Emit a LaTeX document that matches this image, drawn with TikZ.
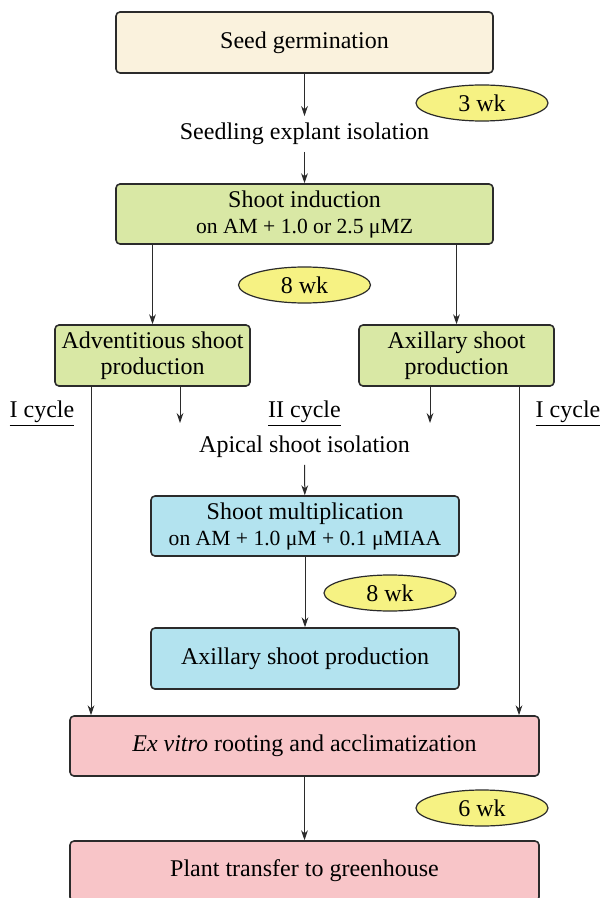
\documentclass[tikz,border=0pt]{standalone}
\usepackage{fontspec}
\setmainfont{Liberation Serif}
\usetikzlibrary{arrows.meta,positioning,shapes.geometric}
\definecolor{stepcream}{HTML}{FAF2DD}
\definecolor{stepgreen}{HTML}{D9E8A5}
\definecolor{stepblue}{HTML}{B3E3EF}
\definecolor{steppink}{HTML}{F8C5C8}
\definecolor{stepyellow}{HTML}{F6F283}
\definecolor{stepink}{HTML}{2B2B2B}
\newcommand{\smalltxt}{\fontsize{10.8}{13}\selectfont}

\begin{document}
\begin{tikzpicture}[x=0.5pt,y=-0.5pt,line join=round,
  font=\fontsize{12}{13}\selectfont,text=black,
  >={Stealth[length=5pt,width=3.4pt]},
  stagebox/.style={draw=stepink,line width=0.8pt,rounded corners=2pt,
    align=center,inner sep=1pt},
  wkmark/.style={ellipse,draw=stepink,line width=0.6pt,fill=stepyellow,
    minimum width=66pt,minimum height=18pt,inner sep=0pt},
  flow/.style={->,stepink,line width=0.5pt},
  cyc/.style={inner sep=1pt}]
  \useasboundingbox (0,0) rectangle (601,898);
  \fill[white] (0,0) rectangle (601,898);
  % stages
  \node[stagebox,fill=stepcream,minimum width=188.5pt,minimum height=30.5pt]
    (seed) at (304.5,42.5) {Seed germination};
  \node (isol) at (304.5,134) {Seedling explant isolation};
  \node[stagebox,fill=stepgreen,minimum width=188.5pt,minimum height=30pt]
    (induct) at (304.5,214) {Shoot induction\\{\smalltxt on AM + 1.0 or 2.5 μMZ}};
  \node[stagebox,fill=stepgreen,minimum width=97.5pt,minimum height=30.5pt]
    (adv) at (152.5,355.5) {Adventitious shoot\\production};
  \node[stagebox,fill=stepgreen,minimum width=97.5pt,minimum height=30.5pt]
    (axil) at (456.5,355.5) {Axillary shoot\\production};
  \node (apical) at (304.5,447) {Apical shoot isolation};
  \node[stagebox,fill=stepblue,minimum width=154pt,minimum height=30pt]
    (mult) at (305,526) {Shoot multiplication\\{\smalltxt on AM + 1.0 μM + 0.1 μMIAA}};
  \node[stagebox,fill=stepblue,minimum width=154pt,minimum height=30.5pt]
    (axprod) at (305,658.5) {Axillary shoot production};
  \node[stagebox,fill=steppink,minimum width=234.5pt,minimum height=30pt]
    (exvitro) at (304.5,746) {\textit{Ex vitro} rooting and acclimatization};
  \node[stagebox,fill=steppink,minimum width=234.5pt,minimum height=30pt]
    (transfer) at (304.5,871) {Plant transfer to greenhouse};
  % durations
  \node[wkmark] (wk3) at (482,103) {3 wk};
  \node[wkmark] (wk8a) at (304.5,285) {8 wk};
  \node[wkmark] (wk8b) at (390,593) {8 wk};
  \node[wkmark] (wk6) at (482,808) {6 wk};
  % cycle labels
  \node[cyc] (cycA) at (42,414) {\underline{I cycle}};
  \node[cyc] (cycB) at (304.5,414) {\underline{II cycle}};
  \node[cyc] (cycC) at (568,414) {\underline{I cycle}};
  % free ends and verticals
  \coordinate (advL) at (91,0);
  \coordinate (advR) at (180,423);
  \coordinate (axL) at (430,423);
  \coordinate (axR) at (519,0);
  \coordinate (indL) at (152.5,0);
  \coordinate (indR) at (456.5,0);
  % connectors
  \draw[flow] (seed) -- (isol);
  \draw[flow] (isol) -- (induct);
  \draw[flow] (induct.south -| indL) -- (adv.north);
  \draw[flow] (induct.south -| indR) -- (axil.north);
  \draw[flow] (adv.south -| advL) -- (exvitro.north -| advL);
  \draw[flow] (adv.south -| advR) -- (advR);
  \draw[flow] (axil.south -| axL) -- (axL);
  \draw[flow] (axil.south -| axR) -- (exvitro.north -| axR);
  \draw[flow] (apical) -- (mult);
  \draw[flow] (mult) -- (axprod);
  \draw[flow] (exvitro) -- (transfer);
\end{tikzpicture}
\end{document}
